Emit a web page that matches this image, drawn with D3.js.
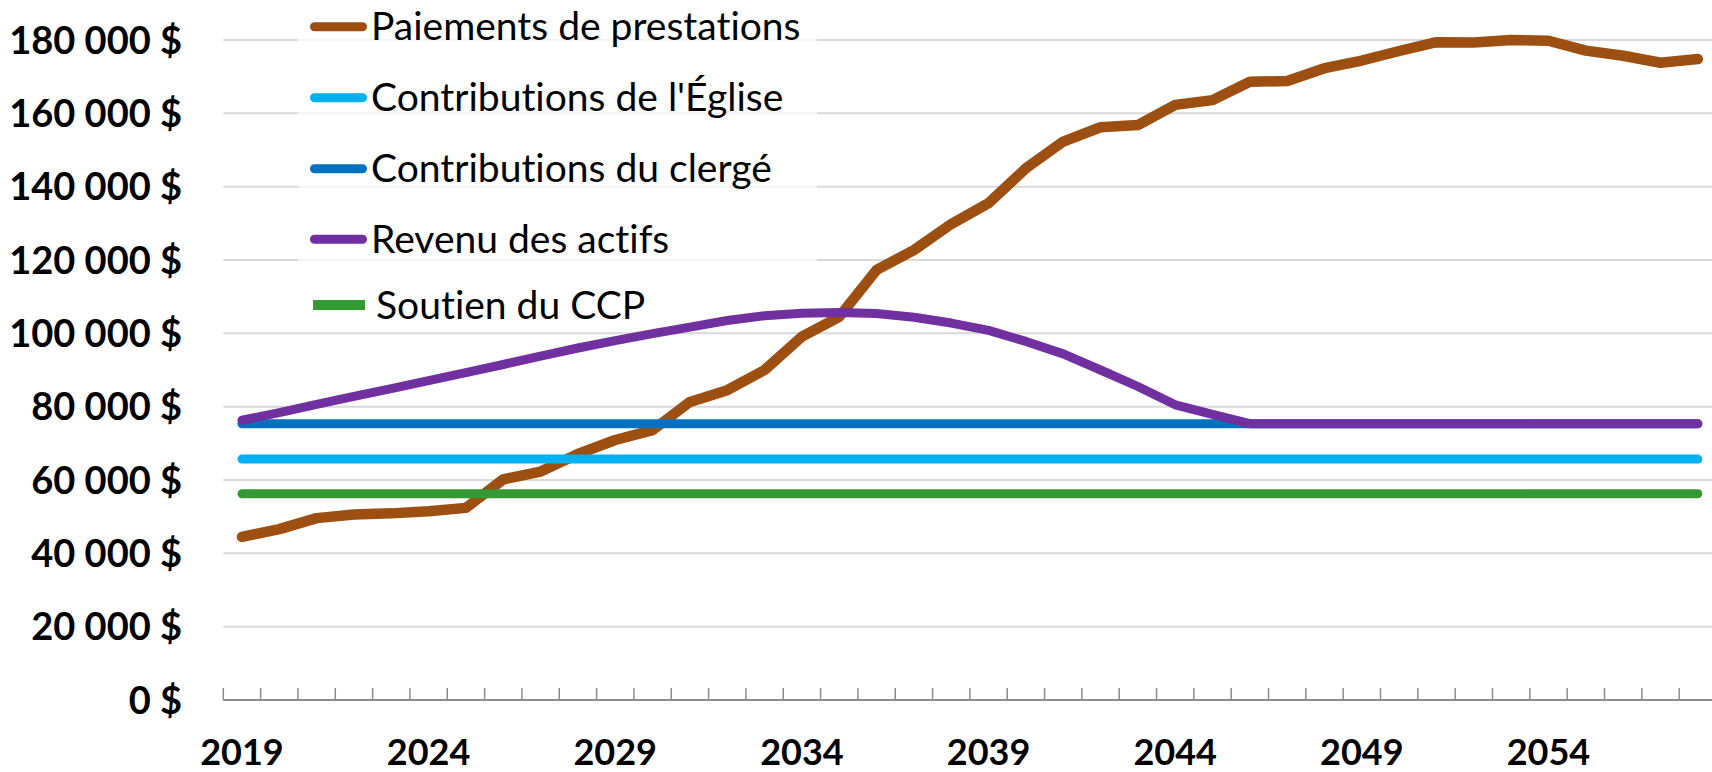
<!DOCTYPE html>
<html>
<head>
<meta charset="utf-8">
<script src="https://cdn.jsdelivr.net/npm/d3@7"></script>
<style>
  body { margin: 0; background: #fff; }
  text { font-family: Lato, "Open Sans", sans-serif; font-variant-ligatures: none; font-feature-settings: "liga" 0, "dlig" 0; }
</style>
</head>
<body>
<div id="chart"></div>
<script>
var years = [2019, 2020, 2021, 2022, 2023, 2024, 2025, 2026, 2027, 2028,
             2029, 2030, 2031, 2032, 2033, 2034, 2035, 2036, 2037, 2038,
             2039, 2040, 2041, 2042, 2043, 2044, 2045, 2046, 2047, 2048,
             2049, 2050, 2051, 2052, 2053, 2054, 2055, 2056, 2057, 2058];

var yearLabels = [2019, 2024, 2029, 2034, 2039, 2044, 2049, 2054];
var yTicks = [0, 20000, 40000, 60000, 80000, 100000, 120000, 140000, 160000, 180000];

var paiements = [44500, 46600, 49600, 50600, 50900, 51500, 52400, 60200, 62300, 67100,
                 70900, 73600, 81300, 84500, 90000, 99100, 104500, 117300, 122700, 129800,
                 135500, 145000, 152300, 156200, 156800, 162300, 163600, 168600, 168800, 172300,
                 174400, 177000, 179400, 179300, 180000, 179800, 177100, 175700, 173800, 174800];

var eglise = [65700, 65700, 65700, 65700, 65700, 65700, 65700, 65700, 65700, 65700,
              65700, 65700, 65700, 65700, 65700, 65700, 65700, 65700, 65700, 65700,
              65700, 65700, 65700, 65700, 65700, 65700, 65700, 65700, 65700, 65700,
              65700, 65700, 65700, 65700, 65700, 65700, 65700, 65700, 65700, 65700];

var clerge = [75350, 75350, 75350, 75350, 75350, 75350, 75350, 75350, 75350, 75350,
              75350, 75350, 75350, 75350, 75350, 75350, 75350, 75350, 75350, 75350,
              75350, 75350, 75350, 75350, 75350, 75350, 75350, 75350, 75350, 75350,
              75350, 75350, 75350, 75350, 75350, 75350, 75350, 75350, 75350, 75350];

var revenu = [76300, 78400, 80600, 82800, 84900, 87100, 89300, 91500, 93800, 96000,
              98000, 99900, 101700, 103500, 104800, 105500, 105700, 105400, 104400, 102800,
              100800, 97800, 94400, 90000, 85500, 80500, 77900, 75350, 75350, 75350,
              75350, 75350, 75350, 75350, 75350, 75350, 75350, 75350, 75350, 75350];

var soutien = [56250, 56250, 56250, 56250, 56250, 56250, 56250, 56250, 56250, 56250,
               56250, 56250, 56250, 56250, 56250, 56250, 56250, 56250, 56250, 56250,
               56250, 56250, 56250, 56250, 56250, 56250, 56250, 56250, 56250, 56250,
               56250, 56250, 56250, 56250, 56250, 56250, 56250, 56250, 56250, 56250];

var seriesNames = ["Paiements de prestations", "Contributions de l'Église", "Contributions du clergé",
                   "Revenu des actifs", "Soutien du CCP"];
var seriesValues = [paiements, eglise, clerge, revenu, soutien];
var colors = ["#9c4f10", "#00b0f0", "#0070c0", "#7030a0", "#339933"];

var width = 1712, height = 772;
var margin = {top: 40, left: 223.3, bottom: 72};

var svg = d3.select("#chart")
  .append("svg")
  .attr("width", width)
  .attr("height", height)
  .style("display", "block");

svg.append("rect").attr("width", width).attr("height", height).attr("fill", "#fff");

// band per year, plot runs slightly past the right edge like the original
var x = d3.scaleBand()
  .domain(years)
  .range([margin.left, margin.left + 40 * 37.33]);

var y = d3.scaleLinear()
  .domain([0, 180000])
  .range([height - margin.bottom, margin.top]);

var money = d3.formatLocale({decimal: ",", thousands: " ", grouping: [3], currency: ["", " $"]}).format("$,.0f");

// gridlines
svg.append("g")
  .selectAll("line")
  .data(yTicks.slice(1))
  .enter().append("line")
  .attr("x1", margin.left)
  .attr("x2", width)
  .attr("y1", d => y(d))
  .attr("y2", d => y(d))
  .attr("stroke", "#d9d9d9")
  .attr("stroke-width", 2);

// legend background (washes out the gridlines behind it)
svg.append("rect")
  .attr("x", 298).attr("y", 0)
  .attr("width", 519).attr("height", 325)
  .attr("fill", "#fff")
  .attr("opacity", 0.7);

// y labels
svg.append("g")
  .selectAll("text")
  .data(yTicks)
  .enter().append("text")
  .attr("x", 182)
  .attr("y", d => y(d) + 13.5)
  .attr("text-anchor", "end")
  .style("font-weight", "bold")
  .style("font-size", "38px")
  .text(d => money(d));

// x axis line + tick marks between categories
var xAxis = svg.append("g");
xAxis.append("line")
  .attr("x1", margin.left).attr("x2", width)
  .attr("y1", y(0)).attr("y2", y(0))
  .attr("stroke", "#8c8c8c")
  .attr("stroke-width", 2);
xAxis.selectAll(".tk")
  .data(years)
  .enter().append("line")
  .attr("class", "tk")
  .attr("x1", d => x(d))
  .attr("x2", d => x(d))
  .attr("y1", y(0))
  .attr("y2", y(0) - 12)
  .attr("stroke", "#8c8c8c")
  .attr("stroke-width", 1.5);
xAxis.selectAll("text")
  .data(yearLabels)
  .enter().append("text")
  .attr("x", d => x(d) + x.bandwidth() / 2)
  .attr("y", 765)
  .attr("text-anchor", "middle")
  .style("font-weight", "bold")
  .style("font-size", "36px")
  .text(d => d);

// lines
var line = d3.line()
  .x((d, i) => x(years[i]) + x.bandwidth() / 2)
  .y(d => y(d));

svg.append("g")
  .selectAll("path")
  .data(seriesValues)
  .enter().append("path")
  .attr("d", d => line(d))
  .attr("fill", "none")
  .attr("stroke", (d, i) => colors[i])
  .attr("stroke-width", (d, i) => i == 0 ? 10.5 : 9)
  .attr("stroke-linejoin", "round")
  .attr("stroke-linecap", "round");

// legend
var legendY = [26.7, 97.7, 168.7, 239.3, 305];
var item = svg.append("g").selectAll(".item")
  .data(seriesNames)
  .enter().append("g")
  .attr("class", "item")
  .attr("transform", (d, i) => "translate(0," + legendY[i] + ")");

item.append("line")
  .attr("x1", (d, i) => i == 4 ? 313 : 314.5)
  .attr("x2", (d, i) => i == 4 ? 365 : 362.5)
  .attr("stroke", (d, i) => colors[i])
  .attr("stroke-width", (d, i) => i == 4 ? 10 : 9)
  .attr("stroke-linecap", (d, i) => i == 4 ? "butt" : "round");

item.append("text")
  .attr("x", (d, i) => i == 4 ? 376 : 371)
  .attr("y", 13.5)
  .style("font-size", "39px")
  .style("fill", "#000")
  .text(d => d);
</script>
</body>
</html>
